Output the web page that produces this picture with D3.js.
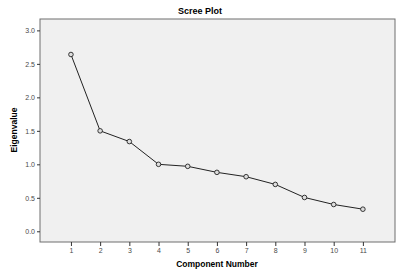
<!DOCTYPE html>
<html>
<head>
<meta charset="utf-8">
<script src="https://cdn.jsdelivr.net/npm/d3@7"></script>
<style>
  body { margin: 0; background: #fff; }
  svg { display: block; font-family: Arial, "Liberation Sans", sans-serif; }
  .tick text { fill: #4a4a4a; font-size: 7px; }
  .tick line { stroke: #333; }
  .domain { display: none; }
</style>
</head>
<body>
<div id="chart"></div>
<script>
/* DATA */
const components = [1, 2, 3, 4, 5, 6, 7, 8, 9, 10, 11];
const eigenvalues = [2.64, 1.50, 1.34, 1.00, 0.97, 0.88, 0.815, 0.70, 0.505, 0.40, 0.33];
const yTicks = [0, 0.5, 1.0, 1.5, 2.0, 2.5, 3.0];

/* CONSTANTS */
const width = 401,
  height = 275,
  margin = { top: 19, right: 6, bottom: 33, left: 40 };

const svg = d3.select("#chart")
  .append("svg")
  .attr("width", width)
  .attr("height", height);

// scales fitted to the plot frame
const xScale = d3.scaleLinear()
  .domain([-0.06, 12.1])
  .range([margin.left, width - margin.right]);
const yScale = d3.scaleLinear()
  .domain([-0.16, 3.17])
  .range([height - margin.bottom, margin.top]);

// plot frame
svg.append("rect")
  .attr("x", margin.left)
  .attr("y", margin.top)
  .attr("width", width - margin.right - margin.left)
  .attr("height", height - margin.bottom - margin.top)
  .attr("fill", "#f0f0f0")
  .attr("stroke", "#6e6e6e")
  .attr("stroke-width", 1);

// axes
svg.append("g")
  .attr("transform", `translate(${margin.left},0)`)
  .call(d3.axisLeft(yScale).tickValues(yTicks).tickFormat(d3.format(".1f")).tickSize(3).tickPadding(2));

svg.append("g")
  .attr("transform", `translate(0,${height - margin.bottom})`)
  .call(d3.axisBottom(xScale).tickValues(components).tickFormat(d3.format("d")).tickSize(4).tickPadding(2));

// line
const line = d3.line()
  .x((d, i) => xScale(components[i]))
  .y(d => yScale(d));

svg.append("path")
  .datum(eigenvalues)
  .attr("d", line)
  .attr("fill", "none")
  .attr("stroke", "#222")
  .attr("stroke-width", 1);

svg.selectAll(".dot")
  .data(eigenvalues)
  .join("circle")
  .attr("class", "dot")
  .attr("cx", (d, i) => xScale(components[i]))
  .attr("cy", d => yScale(d))
  .attr("r", 2.3)
  .attr("fill", "#ddd")
  .attr("stroke", "#222")
  .attr("stroke-width", 0.9);

// title and labels
svg.append("text")
  .attr("x", 200)
  .attr("y", 14)
  .attr("text-anchor", "middle")
  .attr("font-size", 9)
  .attr("font-weight", "bold")
  .text("Scree Plot");

svg.append("text")
  .attr("x", 217)
  .attr("y", 267)
  .attr("text-anchor", "middle")
  .attr("font-size", 8.5)
  .attr("font-weight", "bold")
  .text("Component Number");

svg.append("text")
  .attr("transform", "translate(17,130) rotate(-90)")
  .attr("text-anchor", "middle")
  .attr("font-size", 8.5)
  .attr("font-weight", "bold")
  .text("Eigenvalue");
</script>
</body>
</html>
